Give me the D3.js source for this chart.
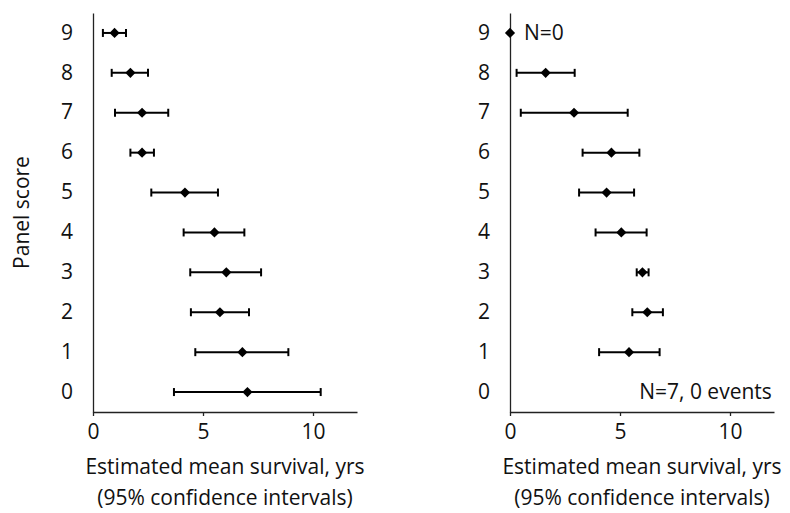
<!DOCTYPE html>
<html>
<head>
<meta charset="utf-8">
<script src="https://cdn.jsdelivr.net/npm/d3@7"></script>
<style>
  body { margin: 0; background: #fff; }
  text { font-family: "Open Sans", sans-serif; fill: #111; }
</style>
</head>
<body>
<div id="chart"></div>
<script>
// panel scores, top to bottom order is handled by the scale
const scores = [0, 1, 2, 3, 4, 5, 6, 7, 8, 9];

// left panel: estimate, lower and upper 95% CI
const leftMean = [7.02, 6.79, 5.77, 6.06, 5.52, 4.18, 2.23, 2.23, 1.70, 0.98];
const leftLow  = [3.68, 4.65, 4.45, 4.42, 4.12, 2.65, 1.70, 1.00, 0.85, 0.45];
const leftHigh = [10.35, 8.88, 7.09, 7.64, 6.88, 5.68, 2.77, 3.42, 2.50, 1.50];

// right panel (null = nothing drawn)
const rightMean = [null, 5.41, 6.24, 6.02, 5.06, 4.39, 4.61, 2.91, 1.62, 0];
const rightLow  = [null, 4.05, 5.56, 5.76, 3.89, 3.14, 3.30, 0.49, 0.30, null];
const rightHigh = [null, 6.80, 6.95, 6.30, 6.21, 5.64, 5.88, 5.35, 2.94, null];

const xTicks = [0, 5, 10];

const W = 790, H = 513;
const svg = d3.select("#chart").append("svg")
  .attr("width", W).attr("height", H);

const plotTop = 13, plotBottom = 412;
const fs = 21;

const y = d3.scaleBand()
  .domain(scores)
  .range([plotBottom, plotTop]);

function panel(x0, mean, low, high) {
  const x = d3.scaleLinear().domain([0, 12]).range([x0, x0 + 264]);
  const g = svg.append("g");

  // x axis
  const xa = g.append("g")
    .attr("transform", `translate(0,${plotBottom})`)
    .call(d3.axisBottom(x).tickValues(xTicks).tickSize(4).tickSizeOuter(0).tickPadding(8));
  xa.attr("font-size", null).attr("font-family", null);
  xa.select(".domain").attr("stroke", "#222").attr("stroke-width", 1.3);
  xa.selectAll(".tick line").attr("stroke", "#222").attr("stroke-width", 1.3);
  xa.selectAll("text").style("font-size", fs + "px").style("fill", "#111");

  // y axis
  const ya = g.append("g")
    .attr("transform", `translate(${x0},0)`)
    .call(d3.axisLeft(y).tickSize(0).tickPadding(20));
  ya.attr("font-size", null).attr("font-family", null);
  ya.select(".domain").attr("stroke", "#222").attr("stroke-width", 1.3);
  ya.selectAll("text").style("font-size", fs + "px").style("fill", "#111");

  const cy = d => y(d) + y.bandwidth() / 2;

  const rows = scores.map((s, i) => ({ s, m: mean[i], lo: low[i], hi: high[i] }));
  const bars = rows.filter(d => d.lo != null);

  g.selectAll(".ci").data(bars).enter().append("line")
    .attr("x1", d => x(d.lo)).attr("x2", d => x(d.hi))
    .attr("y1", d => cy(d.s)).attr("y2", d => cy(d.s))
    .attr("stroke", "#000").attr("stroke-width", 2);

  ["lo", "hi"].forEach(k => {
    g.selectAll(".cap-" + k).data(bars).enter().append("line")
      .attr("x1", d => x(d[k])).attr("x2", d => x(d[k]))
      .attr("y1", d => cy(d.s) - 4).attr("y2", d => cy(d.s) + 4)
      .attr("stroke", "#000").attr("stroke-width", 2);
  });

  g.selectAll(".pt").data(rows.filter(d => d.m != null)).enter().append("path")
    .attr("d", d3.symbol().type(d3.symbolSquare).size(52))
    .attr("transform", d => `translate(${x(d.m)},${cy(d.s)}) rotate(45)`)
    .attr("fill", "#000");

  const mid = x0 + 132;
  const lab = g.append("text").attr("text-anchor", "middle").style("font-size", fs + "px");
  lab.append("tspan").attr("x", mid).attr("y", 474).text("Estimated mean survival, yrs");
  lab.append("tspan").attr("x", mid).attr("y", 505).text("(95% confidence intervals)");

  return { x, cy };
}

const L = panel(93, leftMean, leftLow, leftHigh);
const R = panel(510, rightMean, rightLow, rightHigh);

svg.append("text")
  .attr("transform", `translate(29,${(plotTop + plotBottom) / 2}) rotate(-90)`)
  .attr("text-anchor", "middle")
  .style("font-size", fs + "px")
  .text("Panel score");

svg.append("text")
  .attr("x", R.x(0) + 14).attr("y", R.cy(9) + 7)
  .style("font-size", fs + "px")
  .text("N=0");

svg.append("text")
  .attr("x", R.x(11.9)).attr("y", R.cy(0) + 7)
  .attr("text-anchor", "end")
  .style("font-size", fs + "px")
  .text("N=7, 0 events");
</script>
</body>
</html>
